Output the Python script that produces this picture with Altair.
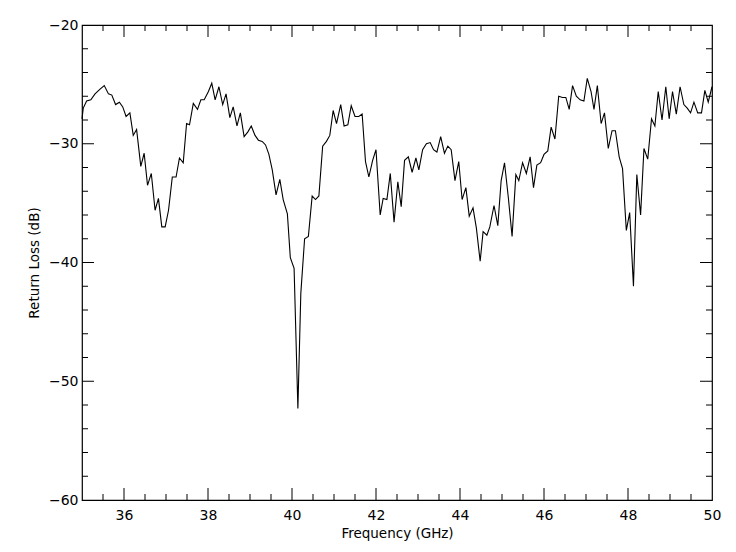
import altair as alt
import pandas as pd
import numpy as np

freq = [35.00, 35.03, 35.11, 35.21, 35.31, 35.43, 35.53, 35.63, 35.71, 35.80, 35.89, 35.97,
        36.05, 36.14, 36.22, 36.30, 36.40, 36.48, 36.56, 36.65, 36.74, 36.82, 36.90, 36.98,
        37.06, 37.15, 37.24, 37.32, 37.41, 37.49, 37.56, 37.65, 37.75, 37.83, 37.91, 38.01,
        38.09, 38.17, 38.26, 38.35, 38.43, 38.52, 38.60, 38.69, 38.77, 38.86, 38.95, 39.03,
        39.12, 39.20, 39.29, 39.37, 39.45, 39.53, 39.62, 39.71, 39.79, 39.89, 39.96, 40.05,
        40.14, 40.21, 40.30, 40.39, 40.48, 40.56, 40.64, 40.73, 40.82, 40.90, 40.98, 41.06,
        41.16, 41.24, 41.33, 41.41, 41.50, 41.59, 41.67, 41.75, 41.83, 41.92, 42.00, 42.10,
        42.17, 42.26, 42.34, 42.43, 42.52, 42.60, 42.68, 42.77, 42.86, 42.95, 43.02, 43.11,
        43.20, 43.29, 43.37, 43.45, 43.54, 43.63, 43.71, 43.79, 43.88, 43.97, 44.05, 44.14,
        44.22, 44.31, 44.39, 44.48, 44.55, 44.64, 44.71, 44.81, 44.90, 44.98, 45.06, 45.15,
        45.24, 45.33, 45.40, 45.49, 45.58, 45.67, 45.75, 45.83, 45.92, 46.00, 46.09, 46.17,
        46.26, 46.35, 46.44, 46.52, 46.60, 46.68, 46.77, 46.86, 46.95, 47.03, 47.12, 47.19,
        47.27, 47.36, 47.44, 47.53, 47.62, 47.70, 47.79, 47.87, 47.96, 48.04, 48.13, 48.21,
        48.30, 48.38, 48.47, 48.56, 48.64, 48.72, 48.81, 48.90, 48.98, 49.06, 49.15, 49.24,
        49.33, 49.41, 49.49, 49.57, 49.66, 49.75, 49.83, 49.91, 50.00]
return_loss = [-27.9, -27.0, -26.4, -26.3, -25.8, -25.4, -25.1, -25.8, -25.9, -26.7, -26.5, -26.9,
               -27.7, -27.4, -29.3, -28.8, -31.9, -30.8, -33.5, -32.5, -35.6, -34.6, -37.0, -37.0,
               -35.6, -32.8, -32.8, -31.2, -31.6, -28.3, -28.4, -26.6, -27.1, -26.3, -26.3, -25.6,
               -24.9, -26.3, -25.2, -26.7, -25.8, -27.8, -26.9, -28.5, -27.4, -29.4, -29.0, -28.5,
               -29.3, -29.7, -29.8, -30.1, -30.9, -32.2, -34.3, -33.0, -34.7, -35.9, -39.6, -40.5,
               -52.3, -42.6, -38.0, -37.8, -34.4, -34.7, -34.4, -30.2, -29.8, -29.3, -27.2, -28.3,
               -26.7, -28.5, -28.4, -26.8, -27.7, -27.7, -27.5, -31.5, -32.8, -31.4, -30.5, -36.0,
               -34.6, -34.7, -32.5, -36.6, -33.2, -35.3, -31.4, -31.1, -32.4, -31.2, -32.2, -30.5,
               -30.0, -29.9, -30.5, -30.7, -29.4, -30.8, -30.2, -30.5, -33.1, -31.5, -34.7, -33.7,
               -36.1, -35.4, -37.1, -39.9, -37.4, -37.7, -37.0, -35.2, -36.9, -33.1, -31.6, -34.5,
               -37.8, -32.6, -33.1, -31.6, -32.5, -31.1, -33.7, -31.8, -31.6, -30.9, -30.6, -28.6,
               -29.6, -26.0, -26.1, -26.1, -27.1, -25.1, -26.0, -26.3, -26.4, -24.5, -25.6, -27.1,
               -25.1, -28.3, -27.4, -30.4, -28.9, -28.9, -31.1, -32.1, -37.3, -35.8, -42.0, -32.6,
               -36.0, -30.4, -31.3, -27.9, -28.5, -25.6, -28.0, -25.2, -27.9, -25.6, -27.5, -25.2,
               -26.7, -27.0, -27.4, -26.5, -27.4, -27.4, -25.5, -26.5, -25.2]

x_labels = [36, 38, 40, 42, 44, 46, 48, 50]
y_labels = [-60, -50, -40, -30, -20]
x_major = [36, 38, 40, 42, 44, 46, 48]
x_minor = [35.5, 36.5, 37, 37.5, 38.5, 39, 39.5, 40.5, 41, 41.5, 42.5, 43, 43.5,
           44.5, 45, 45.5, 46.5, 47, 47.5, 48.5, 49, 49.5]
y_major = [-50, -40, -30]
y_minor = [-58, -56, -54, -52, -48, -46, -44, -42, -38, -36, -34, -32,
           -28, -26, -24, -22]

W, H = 630, 475
MAJ, MIN = 12, 6
FONT = "DejaVu Sans"

xs = alt.Scale(domain=[35, 50], nice=False, zero=False)
ys = alt.Scale(domain=[-60, -20], nice=False, zero=False)

x_axis = alt.Axis(values=x_labels, ticks=False, grid=False, domain=False,
                  labelPadding=8, format="d", labelFlush=False, labelOverlap=False,
                  labelFont=FONT, labelFontSize=14,
                  labelColor="black", titleFont=FONT, titleFontSize=13.5,
                  titleFontWeight="normal", titleColor="black", titlePadding=4)
y_axis = alt.Axis(values=y_labels, ticks=False, grid=False, domain=False,
                  labelPadding=4, format="d", labelFlush=False, labelOverlap=False,
                  labelFont=FONT, labelFontSize=14,
                  labelColor="black", titleFont=FONT, titleFontSize=13.5,
                  titleFontWeight="normal", titleColor="black", titlePadding=7)
X_TITLE = "Frequency (GHz)"
Y_TITLE = "Return Loss (dB)"

df = pd.DataFrame({"f": freq, "rl": return_loss})

line = alt.Chart(df).mark_line(color="black", strokeWidth=1.1).encode(
    x=alt.X("f:Q", scale=xs, title=X_TITLE, axis=x_axis),
    y=alt.Y("rl:Q", scale=ys, title=Y_TITLE, axis=y_axis),
)

def xticks(vals, length):
    d = pd.DataFrame({"t": vals})
    enc = alt.X("t:Q", scale=xs, title=X_TITLE, axis=x_axis)
    bottom = alt.Chart(d).mark_rule(color="black", strokeWidth=1).encode(
        x=enc, y=alt.value(H), y2=alt.value(H - length))
    top = alt.Chart(d).mark_rule(color="black", strokeWidth=1).encode(
        x=enc, y=alt.value(0), y2=alt.value(length))
    return [bottom, top]

def yticks(vals, length):
    d = pd.DataFrame({"t": vals})
    enc = alt.Y("t:Q", scale=ys, title=Y_TITLE, axis=y_axis)
    left = alt.Chart(d).mark_rule(color="black", strokeWidth=1).encode(
        y=enc, x=alt.value(0), x2=alt.value(length))
    right = alt.Chart(d).mark_rule(color="black", strokeWidth=1).encode(
        y=enc, x=alt.value(W), x2=alt.value(W - length))
    return [left, right]

layers = [line] + xticks(x_major, MAJ) + xticks(x_minor, MIN) + yticks(y_major, MAJ) + yticks(y_minor, MIN)

chart = alt.layer(*layers).properties(
    width=W, height=H,
    autosize=alt.AutoSizeParams(type="none"),
    padding={"left": 74, "top": 17, "right": 14, "bottom": 44},
    background="white",
).configure_view(stroke="black", strokeWidth=1.2)

chart.save("out.html", embed_options={"renderer": "svg", "actions": False})
